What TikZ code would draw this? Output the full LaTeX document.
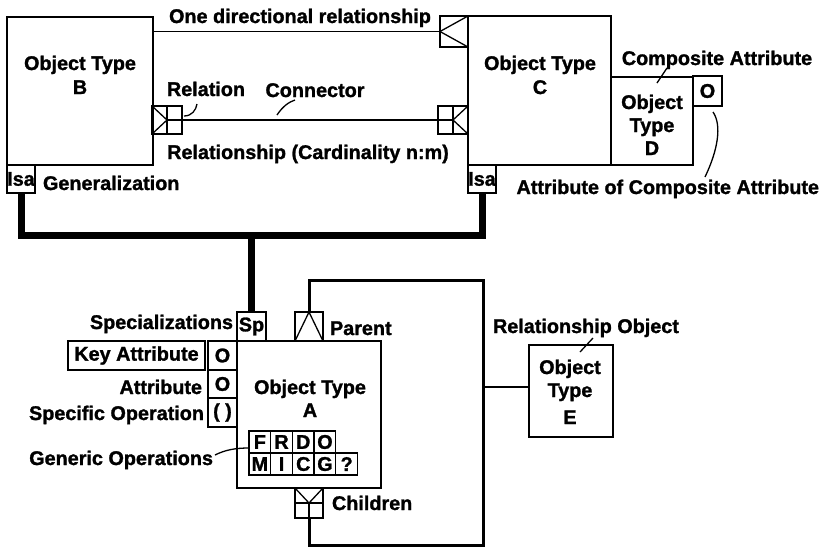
\documentclass[tikz,border=0pt]{standalone}
\usepackage{fontspec}
\setmainfont{Liberation Sans}[BoldFeatures={FakeBold=1.3}]
\begin{document}
\begin{tikzpicture}[x=1pt,y=-1pt,
  every node/.style={font=\fontsize{19.8}{23}\selectfont\bfseries, inner sep=0pt, outer sep=0pt},
  box/.style={draw, line width=1.3pt, anchor=north west, inner sep=0pt, outer sep=0pt},
  tb/.style={anchor=base},
  tl/.style={anchor=base west},
  tr/.style={anchor=base east},
  ln/.style={line width=1.3pt},
  thicklink/.style={line width=7pt},
  looplink/.style={line width=3pt}]
\useasboundingbox (0,0) rectangle (828,550);

% ---- Object type B ----
\node[box, minimum width=146pt, minimum height=148pt] (B) at (7,17) {};
\node[tb] (Bt1) at (80,70) {Object Type};
\node[tb] (Bt2) at (80,94) {B};
\node[box, minimum width=28pt, minimum height=28pt] (isab) at (7,165) {Isa};
\node[tl] (gen) at (43,190) {Generalization};

% ---- Object type C ----
\node[box, minimum width=143pt, minimum height=149pt] (C) at (468,16) {};
\node[tb] (Ct1) at (540,70) {Object Type};
\node[tb] (Ct2) at (540,94) {C};
\node[box, minimum width=28pt, minimum height=28pt] (isac) at (468,165) {Isa};

% ---- Composite attribute D ----
\node[box, minimum width=82pt, minimum height=88pt] (D) at (611,77) {};
\node[tb] (Dt1) at (652,109) {Object};
\node[tb] (Dt2) at (652,132) {Type};
\node[tb] (Dt3) at (652,155) {D};
\node[box, minimum width=29pt, minimum height=30pt] (OA) at (693,76) {O};
\node[tb] (compL) at (717,65) {Composite Attribute};
\node[tr] (acaL) at (819,194) {Attribute of Composite Attribute};
\coordinate (c1) at (667,68);
\coordinate (c2) at (657,83);
\draw[ln] (c1) -- (c2);
\coordinate (a1) at (713,112);
\coordinate (a2) at (705,177);
\draw[ln] (a1) .. controls (722,125) and (718,150) .. (a2);

% ---- One directional relationship ----
\node[box, minimum width=28pt, minimum height=31pt] (odg) at (440,16) {};
\draw[ln] (odg.west) -- (odg.north east);
\draw[ln] (odg.west) -- (odg.south east);
\draw[ln] (B.east |- odg.west) -- (odg.west);
\node[tb] (odL) at (300,23) {One directional relationship};

% ---- Relationship n:m ----
\node[box, minimum width=30pt, minimum height=28pt] (rg1) at (152,106) {};
\draw[ln] (rg1.north west) -- (rg1.center) -- (rg1.south west);
\draw[ln] (rg1.north) -- (rg1.south);
\draw[ln] (rg1.center) -- (rg1.east);
\node[box, minimum width=30pt, minimum height=28pt] (rg2) at (438,106) {};
\draw[ln] (rg2.north east) -- (rg2.center) -- (rg2.south east);
\draw[ln] (rg2.north) -- (rg2.south);
\draw[ln] (rg2.west) -- (rg2.center);
\draw[ln] (rg1.east) -- (rg2.west);
\node[tb] (relL) at (206,96) {Relation};
\node[tb] (conL) at (315,97) {Connector};
\node[tb] (cardL) at (308,159) {Relationship (Cardinality n:m)};
\coordinate (r1) at (184,116);
\coordinate (r2) at (197,104);
\draw[ln] (r1) .. controls (192,116) and (196,110) .. (r2);
\coordinate (k1) at (277,115);
\coordinate (k2) at (295,100);
\draw[ln] (k1) .. controls (283,106) and (289,102) .. (k2);

% ---- Object type A ----
\node[box, minimum width=144pt, minimum height=147pt] (A) at (237,341) {};
\node[tb] (At1) at (310,394) {Object Type};
\node[tb] (At2) at (310,417) {A};
\node[box, minimum width=29pt, minimum height=29pt] (sp) at (237,312) {Sp};
\node[tr] (spL) at (233,329) {Specializations};

% attributes column
\node[box, minimum width=29pt, minimum height=29pt] (at1) at (208,341) {O};
\node[box, minimum width=29pt, minimum height=28pt] (at2) at (208,370) {O};
\node[box, minimum width=29pt, minimum height=29pt] (at3) at (208,398) {( )};
\node[box, minimum width=137pt, minimum height=29pt] (keyL) at (68,341) {Key Attribute};
\node[tr] (attL) at (202,394) {Attribute};
\node[tr] (sopL) at (204,420) {Specific Operation};
\node[tr] (gopL) at (213,465) {Generic Operations};

% operations grid
\foreach \l [count=\i from 0] in {F,R,D,O}
  \node[box, minimum width=21.7pt, minimum height=22pt] (op\i) at (249+21.7*\i,431) {\l};
\foreach \l [count=\i from 0] in {M,I,C,G,?}
  \node[box, minimum width=21.7pt, minimum height=22pt] (oq\i) at (249+21.7*\i,453) {\l};
\coordinate (g1) at (215,455);
\draw[ln] (g1) .. controls (225,450) and (235,448) .. (op0.west |- 0,448);

% parent / children glyphs
\node[box, minimum width=28pt, minimum height=29pt] (par) at (295,312) {};
\draw[ln] (par.south west) -- (par.north) -- (par.south east);
\node[tl] (parL) at (330,335) {Parent};
\node[box, minimum width=28pt, minimum height=30pt] (ch) at (295,488) {};
\draw[ln] (ch.north west) -- (ch.center) -- (ch.north east);
\draw[ln] (ch.west) -- (ch.east);
\draw[ln] (ch.center) -- (ch.south);
\node[tl] (chL) at (332,510) {Children};

% recursive relationship loop
\coordinate (lt) at (483,280);
\coordinate (lb) at (483,545);
\draw[looplink] (par.north) -- (par.north |- lt) -- (lt) -- (lb) -| (ch.south);

% ---- Relationship object E ----
\node[box, minimum width=84pt, minimum height=92pt] (E) at (529,345) {};
\node[tb] (Et1) at (570,374) {Object};
\node[tb] (Et2) at (570,397) {Type};
\node[tb] (Et3) at (570,424) {E};
\coordinate (ej) at (483,387);
\draw[ln] (ej) -- (ej -| E.west);
\node[tl] (roL) at (493,333) {Relationship Object};
\coordinate (e1) at (593,338);
\coordinate (e2) at (580,352);
\draw[ln] (e1) -- (e2);

% ---- Generalization lines ----
\coordinate (gh) at (0,235);
\draw[thicklink] (isab.south) -- (isab.south |- gh) -| (isac.south);
\draw[thicklink] (sp.north) -- (sp.north |- gh);
\end{tikzpicture}
\end{document}
